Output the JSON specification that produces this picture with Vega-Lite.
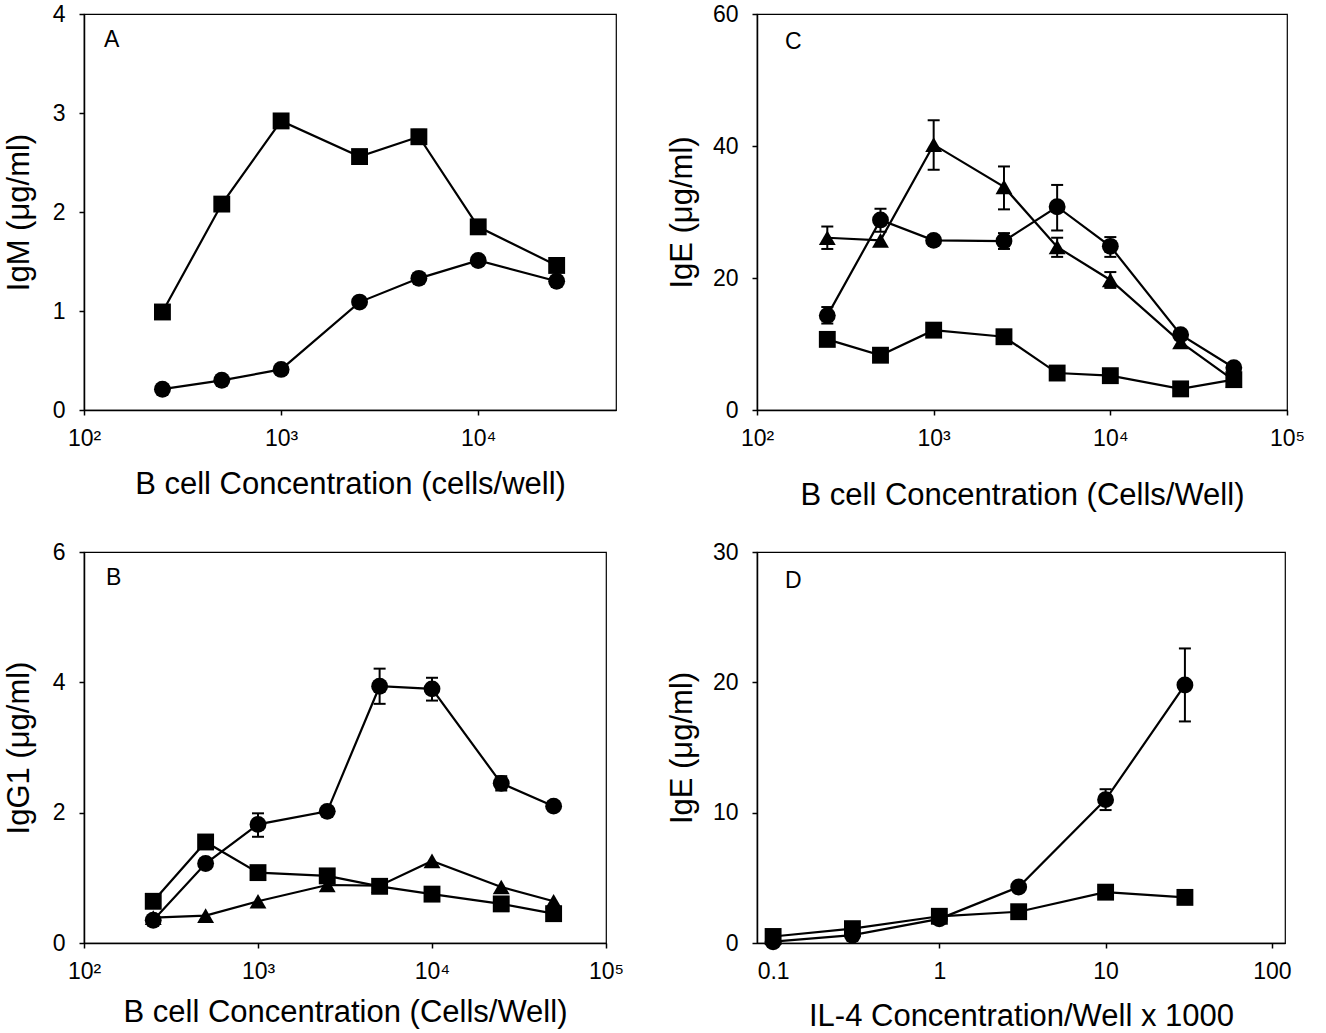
{
  "$schema": "https://vega.github.io/schema/vega-lite/v6.json",
  "background": "white",
  "padding": {"left": 2, "top": 2, "right": 5, "bottom": 5},
  "bounds": "flush",
  "columns": 2,
  "spacing": {"row": 142, "column": 141},
  "datasets": {
    "A": [
      {"conc": 250, "value": 0.99, "group": "square"},
      {"conc": 500, "value": 2.08, "group": "square"},
      {"conc": 1000, "value": 2.92, "group": "square"},
      {"conc": 2500, "value": 2.56, "group": "square"},
      {"conc": 5000, "value": 2.76, "lo": 2.69, "hi": 2.83, "group": "square"},
      {"conc": 10000, "value": 1.85, "group": "square"},
      {"conc": 25000, "value": 1.46, "group": "square"},
      {"conc": 250, "value": 0.21, "group": "circle"},
      {"conc": 500, "value": 0.30, "group": "circle"},
      {"conc": 1000, "value": 0.41, "group": "circle"},
      {"conc": 2500, "value": 1.09, "group": "circle"},
      {"conc": 5000, "value": 1.33, "group": "circle"},
      {"conc": 10000, "value": 1.51, "group": "circle"},
      {"conc": 25000, "value": 1.30, "group": "circle"}
    ],
    "B": [
      {"conc": 250, "value": 0.35, "group": "circle"},
      {"conc": 500, "value": 1.22, "group": "circle"},
      {"conc": 1000, "value": 1.82, "lo": 1.63, "hi": 1.99, "group": "circle"},
      {"conc": 2500, "value": 2.02, "group": "circle"},
      {"conc": 5000, "value": 3.94, "lo": 3.67, "hi": 4.21, "group": "circle"},
      {"conc": 10000, "value": 3.90, "lo": 3.72, "hi": 4.07, "group": "circle"},
      {"conc": 25000, "value": 2.45, "lo": 2.34, "hi": 2.56, "group": "circle"},
      {"conc": 50000, "value": 2.10, "group": "circle"},
      {"conc": 250, "value": 0.64, "group": "square"},
      {"conc": 500, "value": 1.55, "group": "square"},
      {"conc": 1000, "value": 1.08, "group": "square"},
      {"conc": 2500, "value": 1.03, "group": "square"},
      {"conc": 5000, "value": 0.87, "group": "square"},
      {"conc": 10000, "value": 0.75, "group": "square"},
      {"conc": 25000, "value": 0.60, "group": "square"},
      {"conc": 50000, "value": 0.45, "group": "square"},
      {"conc": 250, "value": 0.39, "group": "triangle"},
      {"conc": 500, "value": 0.42, "group": "triangle"},
      {"conc": 1000, "value": 0.64, "group": "triangle"},
      {"conc": 2500, "value": 0.89, "group": "triangle"},
      {"conc": 5000, "value": 0.88, "group": "triangle"},
      {"conc": 10000, "value": 1.26, "group": "triangle"},
      {"conc": 25000, "value": 0.86, "group": "triangle"},
      {"conc": 50000, "value": 0.64, "group": "triangle"}
    ],
    "C": [
      {"conc": 250, "value": 26.1, "lo": 24.4, "hi": 27.8, "group": "triangle"},
      {"conc": 500, "value": 25.7, "group": "triangle"},
      {"conc": 1000, "value": 40.2, "lo": 36.4, "hi": 43.9, "group": "triangle"},
      {"conc": 2500, "value": 33.8, "lo": 30.4, "hi": 36.9, "group": "triangle"},
      {"conc": 5000, "value": 24.7, "lo": 23.2, "hi": 26.1, "group": "triangle"},
      {"conc": 10000, "value": 19.7, "lo": 18.5, "hi": 20.9, "group": "triangle"},
      {"conc": 25000, "value": 10.3, "group": "triangle"},
      {"conc": 50000, "value": 4.5, "group": "triangle"},
      {"conc": 250, "value": 14.3, "lo": 13.1, "hi": 15.6, "group": "circle"},
      {"conc": 500, "value": 28.8, "lo": 27.0, "hi": 30.5, "group": "circle"},
      {"conc": 1000, "value": 25.7, "group": "circle"},
      {"conc": 2500, "value": 25.6, "lo": 24.4, "hi": 26.8, "group": "circle"},
      {"conc": 5000, "value": 30.8, "lo": 27.2, "hi": 34.1, "group": "circle"},
      {"conc": 10000, "value": 24.8, "lo": 23.2, "hi": 26.2, "group": "circle"},
      {"conc": 25000, "value": 11.4, "group": "circle"},
      {"conc": 50000, "value": 6.4, "group": "circle"},
      {"conc": 250, "value": 10.7, "group": "square"},
      {"conc": 500, "value": 8.3, "group": "square"},
      {"conc": 1000, "value": 12.1, "group": "square"},
      {"conc": 2500, "value": 11.1, "group": "square"},
      {"conc": 5000, "value": 5.6, "group": "square"},
      {"conc": 10000, "value": 5.2, "group": "square"},
      {"conc": 25000, "value": 3.2, "group": "square"},
      {"conc": 50000, "value": 4.6, "group": "square"}
    ],
    "D": [
      {"conc": 0.1, "value": 0.1, "group": "circle"},
      {"conc": 0.3, "value": 0.6, "group": "circle"},
      {"conc": 1, "value": 1.85, "group": "circle"},
      {"conc": 3, "value": 4.3, "group": "circle"},
      {"conc": 10, "value": 11.0, "lo": 10.2, "hi": 11.8, "group": "circle"},
      {"conc": 30, "value": 19.8, "lo": 17.0, "hi": 22.6, "group": "circle"},
      {"conc": 0.1, "value": 0.5, "group": "square"},
      {"conc": 0.3, "value": 1.1, "group": "square"},
      {"conc": 1, "value": 2.05, "group": "square"},
      {"conc": 3, "value": 2.4, "group": "square"},
      {"conc": 10, "value": 3.9, "group": "square"},
      {"conc": 30, "value": 3.5, "group": "square"}
    ]
  },
  "concat": [
    {
      "width": 532, "height": 396,
      "data": {"name": "A"},
      "title": {"text": "A", "dx": 20, "dy": 53},
      "encoding": {
        "x": {"field": "conc", "type": "quantitative", "title": "B cell Concentration (cells/well)",
          "scale": {"type": "log", "domain": [100, 50000], "nice": false},
          "axis": {"values": [100, 1000, 10000], "labelExpr": "datum.value == 100 ? '10²' : datum.value == 1000 ? '10³' : datum.value == 10000 ? '10⁴' : '10⁵'", "titlePadding": 19}}
      },
      "layer": [
        {"transform": [{"filter": "datum.lo != null"}],
         "mark": {"type": "rule", "color": "black", "strokeWidth": 2},
         "encoding": {"y": {"field": "lo", "type": "quantitative", "title": "IgM (μg/ml)", "scale": {"domain": [0, 4], "nice": false}, "axis": {"values": [0, 1, 2, 3, 4], "format": "d", "titlePadding": 17}}, "y2": {"field": "hi"}}},
        {"transform": [{"filter": "datum.lo != null"}, {"fold": ["lo", "hi"], "as": ["k", "bound"]}],
         "mark": {"type": "tick", "color": "black", "orient": "horizontal", "size": 12, "thickness": 2, "opacity": 1},
         "encoding": {"y": {"field": "bound", "type": "quantitative", "title": "IgM (μg/ml)"}}},
        {"mark": {"type": "line", "color": "black", "strokeWidth": 2.2},
         "encoding": {"y": {"field": "value", "type": "quantitative", "title": "IgM (μg/ml)"}, "detail": {"field": "group"}}},
        {"mark": {"type": "point", "filled": true, "color": "black", "opacity": 1, "size": 285},
         "encoding": {"y": {"field": "value", "type": "quantitative", "title": "IgM (μg/ml)"},
           "shape": {"field": "group", "scale": {"domain": ["circle", "square", "triangle"], "range": ["circle", "square", "triangle-up"]}, "legend": null}}}
      ]
    },
    {
      "width": 530, "height": 396,
      "data": {"name": "C"},
      "title": {"text": "C", "dx": 28, "dy": 55},
      "encoding": {
        "x": {"field": "conc", "type": "quantitative", "title": "B cell Concentration (Cells/Well)",
          "scale": {"type": "log", "domain": [100, 100000], "nice": false},
          "axis": {"values": [100, 1000, 10000, 100000], "labelExpr": "datum.value == 100 ? '10²' : datum.value == 1000 ? '10³' : datum.value == 10000 ? '10⁴' : '10⁵'", "titlePadding": 30}}
      },
      "layer": [
        {"transform": [{"filter": "datum.lo != null"}],
         "mark": {"type": "rule", "color": "black", "strokeWidth": 2},
         "encoding": {"y": {"field": "lo", "type": "quantitative", "title": "IgE (μg/ml)", "scale": {"domain": [0, 60], "nice": false}, "axis": {"values": [0, 20, 40, 60], "format": "d", "titlePadding": 14}}, "y2": {"field": "hi"}}},
        {"transform": [{"filter": "datum.lo != null"}, {"fold": ["lo", "hi"], "as": ["k", "bound"]}],
         "mark": {"type": "tick", "color": "black", "orient": "horizontal", "size": 12, "thickness": 2, "opacity": 1},
         "encoding": {"y": {"field": "bound", "type": "quantitative", "title": "IgE (μg/ml)"}}},
        {"mark": {"type": "line", "color": "black", "strokeWidth": 2.2},
         "encoding": {"y": {"field": "value", "type": "quantitative", "title": "IgE (μg/ml)"}, "detail": {"field": "group"}}},
        {"mark": {"type": "point", "filled": true, "color": "black", "opacity": 1, "size": 285},
         "encoding": {"y": {"field": "value", "type": "quantitative", "title": "IgE (μg/ml)"},
           "shape": {"field": "group", "scale": {"domain": ["circle", "square", "triangle"], "range": ["circle", "square", "triangle-up"]}, "legend": null}}}
      ]
    },
    {
      "width": 522, "height": 391,
      "data": {"name": "B"},
      "title": {"text": "B", "dx": 22, "dy": 53},
      "encoding": {
        "x": {"field": "conc", "type": "quantitative", "title": "B cell Concentration (Cells/Well)",
          "scale": {"type": "log", "domain": [100, 100000], "nice": false},
          "axis": {"values": [100, 1000, 10000, 100000], "labelExpr": "datum.value == 100 ? '10²' : datum.value == 1000 ? '10³' : datum.value == 10000 ? '10⁴' : '10⁵'", "titlePadding": 14}}
      },
      "layer": [
        {"transform": [{"filter": "datum.lo != null"}],
         "mark": {"type": "rule", "color": "black", "strokeWidth": 2},
         "encoding": {"y": {"field": "lo", "type": "quantitative", "title": "IgG1 (μg/ml)", "scale": {"domain": [0, 6], "nice": false}, "axis": {"values": [0, 2, 4, 6], "format": "d", "titlePadding": 17}}, "y2": {"field": "hi"}}},
        {"transform": [{"filter": "datum.lo != null"}, {"fold": ["lo", "hi"], "as": ["k", "bound"]}],
         "mark": {"type": "tick", "color": "black", "orient": "horizontal", "size": 12, "thickness": 2, "opacity": 1},
         "encoding": {"y": {"field": "bound", "type": "quantitative", "title": "IgG1 (μg/ml)"}}},
        {"mark": {"type": "line", "color": "black", "strokeWidth": 2.2},
         "encoding": {"y": {"field": "value", "type": "quantitative", "title": "IgG1 (μg/ml)"}, "detail": {"field": "group"}}},
        {"mark": {"type": "point", "filled": true, "color": "black", "opacity": 1, "size": 285},
         "encoding": {"y": {"field": "value", "type": "quantitative", "title": "IgG1 (μg/ml)"},
           "shape": {"field": "group", "scale": {"domain": ["circle", "square", "triangle"], "range": ["circle", "square", "triangle-up"]}, "legend": null}}}
      ]
    },
    {
      "width": 528, "height": 391,
      "data": {"name": "D"},
      "title": {"text": "D", "dx": 28, "dy": 56},
      "encoding": {
        "x": {"field": "conc", "type": "quantitative", "title": "IL-4 Concentration/Well x 1000",
          "scale": {"type": "log", "domain": [0.08, 120], "nice": false},
          "axis": {"values": [0.1, 1, 10, 100], "labelExpr": "datum.value == 0.1 ? '0.1' : format(datum.value, 'd')", "titlePadding": 18}}
      },
      "layer": [
        {"transform": [{"filter": "datum.lo != null"}],
         "mark": {"type": "rule", "color": "black", "strokeWidth": 2},
         "encoding": {"y": {"field": "lo", "type": "quantitative", "title": "IgE (μg/ml)", "scale": {"domain": [0, 30], "nice": false}, "axis": {"values": [0, 10, 20, 30], "format": "d", "titlePadding": 14}}, "y2": {"field": "hi"}}},
        {"transform": [{"filter": "datum.lo != null"}, {"fold": ["lo", "hi"], "as": ["k", "bound"]}],
         "mark": {"type": "tick", "color": "black", "orient": "horizontal", "size": 12, "thickness": 2, "opacity": 1},
         "encoding": {"y": {"field": "bound", "type": "quantitative", "title": "IgE (μg/ml)"}}},
        {"mark": {"type": "line", "color": "black", "strokeWidth": 2.2},
         "encoding": {"y": {"field": "value", "type": "quantitative", "title": "IgE (μg/ml)"}, "detail": {"field": "group"}}},
        {"mark": {"type": "point", "filled": true, "color": "black", "opacity": 1, "size": 285},
         "encoding": {"y": {"field": "value", "type": "quantitative", "title": "IgE (μg/ml)"},
           "shape": {"field": "group", "scale": {"domain": ["circle", "square", "triangle"], "range": ["circle", "square", "triangle-up"]}, "legend": null}}}
      ]
    }
  ],
  "config": {
    "font": "Liberation Sans",
    "view": {"stroke": "black", "strokeWidth": 1.2},
    "axis": {
      "grid": false,
      "domainColor": "black", "domainWidth": 1.5,
      "tickColor": "black", "tickWidth": 1.5, "tickSize": 5,
      "labelFont": "Liberation Sans", "labelFontSize": 23, "labelColor": "black", "labelPadding": 14,
      "labelFlush": false, "labelOverlap": false,
      "titleFont": "Liberation Sans", "titleFontSize": 31, "titleFontWeight": "normal", "titleColor": "black"
    },
    "axisX": {"labelPadding": 12},
    "title": {"font": "Liberation Sans", "fontSize": 23, "fontWeight": "normal", "color": "black", "anchor": "start", "frame": "group"}
  }
}
